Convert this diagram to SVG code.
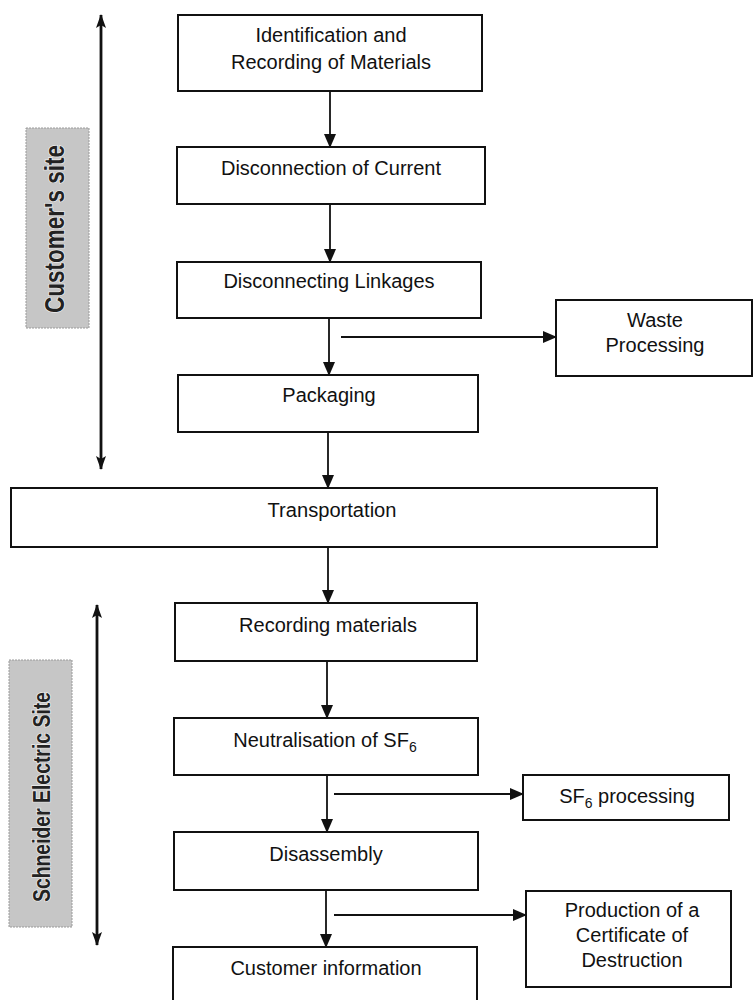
<svg xmlns="http://www.w3.org/2000/svg" width="753" height="1000" viewBox="0 0 753 1000">
<style>
.box{fill:#fff;stroke:#111;stroke-width:2}
.t{font-family:"Liberation Sans",Arial,sans-serif;font-size:20px;fill:#111;text-anchor:middle}
.sub{font-size:14px}
.con{stroke:#111;stroke-width:1.8;fill:none}
.site{stroke:#111;stroke-width:2.8;fill:none}
.lab{fill:#c6c6c6;stroke:#9a9a9a;stroke-width:1;stroke-dasharray:2 1}
.lt{font-family:"Liberation Sans",Arial,sans-serif;font-weight:bold;fill:#222;text-anchor:middle;stroke:#eee;stroke-width:1.5;paint-order:stroke}
</style>
<defs>
<marker id="ah" markerUnits="userSpaceOnUse" markerWidth="14" markerHeight="12" refX="13" refY="6" orient="auto">
<path d="M0,0 L14,6 L0,12 z" fill="#111"/>
</marker>
<marker id="sa" markerUnits="userSpaceOnUse" markerWidth="14" markerHeight="10" refX="13" refY="5" orient="auto-start-reverse">
<path d="M0,0 L14,5 L0,10 L3,5 z" fill="#111"/>
</marker>
</defs>

<g id="site-customer">
<rect class="lab" x="26" y="128" width="63" height="200"/>
<text class="lt" font-size="27" textLength="168" lengthAdjust="spacingAndGlyphs" transform="translate(64,229) rotate(-90)">Customer's site</text>
</g>
<g id="site-schneider">
<rect class="lab" x="9" y="660" width="63" height="267"/>
<text class="lt" font-size="23" textLength="210" lengthAdjust="spacingAndGlyphs" transform="translate(50,797) rotate(-90)">Schneider Electric Site</text>
</g>

<g id="n1"><rect class="box" x="178" y="15" width="304" height="76"/>
<text class="t" x="331" y="42">Identification and</text>
<text class="t" x="331" y="69">Recording of Materials</text></g>
<g id="n2"><rect class="box" x="177" y="147" width="308" height="57"/>
<text class="t" x="331" y="175">Disconnection of Current</text></g>
<g id="n3"><rect class="box" x="177" y="262" width="304" height="56"/>
<text class="t" x="329" y="288">Disconnecting Linkages</text></g>
<g id="n4"><rect class="box" x="178" y="375" width="300" height="57"/>
<text class="t" x="329" y="402">Packaging</text></g>
<g id="waste"><rect class="box" x="556" y="300" width="196" height="76"/>
<text class="t" x="655" y="327">Waste</text>
<text class="t" x="655" y="352">Processing</text></g>
<g id="n5"><rect class="box" x="11" y="488" width="646" height="59"/>
<text class="t" x="332" y="517" textLength="129" lengthAdjust="spacingAndGlyphs">Transportation</text></g>
<g id="n6"><rect class="box" x="175" y="603" width="302" height="58"/>
<text class="t" x="328" y="632">Recording materials</text></g>
<g id="n7"><rect class="box" x="174" y="718" width="304" height="57"/>
<text class="t" x="325" y="747">Neutralisation of SF<tspan class="sub" dy="5">6</tspan></text></g>
<g id="sf6"><rect class="box" x="523" y="775" width="206" height="45"/>
<text class="t" x="627" y="803">SF<tspan class="sub" dy="5">6</tspan><tspan dy="-5"> processing</tspan></text></g>
<g id="n8"><rect class="box" x="174" y="832" width="304" height="58"/>
<text class="t" x="326" y="861">Disassembly</text></g>
<g id="cert"><rect class="box" x="526" y="891" width="205" height="96"/>
<text class="t" x="632" y="917">Production of a</text>
<text class="t" x="632" y="942">Certificate of</text>
<text class="t" x="632" y="967">Destruction</text></g>
<g id="n9"><rect class="box" x="173" y="947" width="304" height="60"/>
<text class="t" x="326" y="975">Customer information</text></g>

<g id="connectors">
<line class="con" x1="330" y1="91" x2="330" y2="147" marker-end="url(#ah)"/>
<line class="con" x1="330" y1="204" x2="330" y2="262" marker-end="url(#ah)"/>
<line class="con" x1="329" y1="318" x2="329" y2="375" marker-end="url(#ah)"/>
<line class="con" x1="341" y1="337" x2="556" y2="337" marker-end="url(#ah)"/>
<line class="con" x1="328" y1="432" x2="328" y2="488" marker-end="url(#ah)"/>
<line class="con" x1="328" y1="547" x2="328" y2="603" marker-end="url(#ah)"/>
<line class="con" x1="327" y1="661" x2="327" y2="718" marker-end="url(#ah)"/>
<line class="con" x1="327" y1="775" x2="327" y2="832" marker-end="url(#ah)"/>
<line class="con" x1="334" y1="794" x2="523" y2="794" marker-end="url(#ah)"/>
<line class="con" x1="326" y1="890" x2="326" y2="947" marker-end="url(#ah)"/>
<line class="con" x1="334" y1="915" x2="526" y2="915" marker-end="url(#ah)"/>
<line class="site" x1="101" y1="15" x2="101" y2="469" marker-start="url(#sa)" marker-end="url(#sa)"/>
<line class="site" x1="97" y1="605" x2="97" y2="945" marker-start="url(#sa)" marker-end="url(#sa)"/>
</g>
</svg>
